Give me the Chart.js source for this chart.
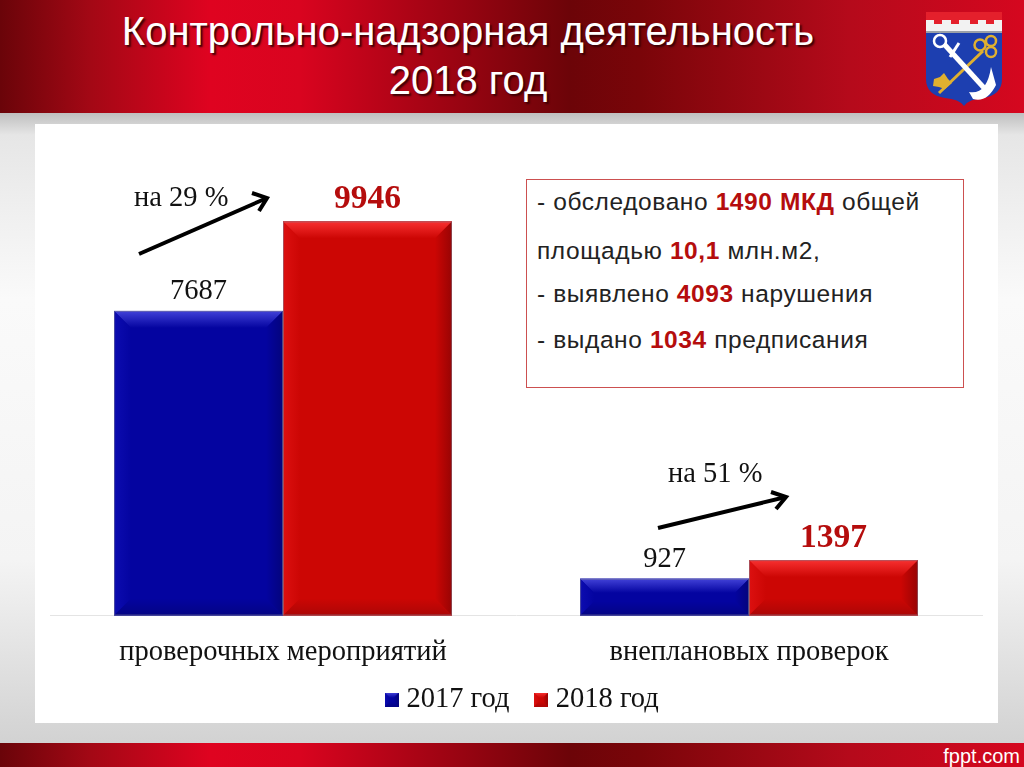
<!DOCTYPE html>
<html lang="ru">
<head>
<meta charset="utf-8">
<title>Контрольно-надзорная деятельность</title>
<script src="https://cdn.jsdelivr.net/npm/chart.js@4"></script>
<style>
  html, body { margin: 0; padding: 0; }
  #slide {
    position: relative; width: 1024px; height: 767px; overflow: hidden;
    background: linear-gradient(to bottom, #bdbdbd 112px, #e6e6e6 135px, #fafafa 300px, #f4f4f4 560px, #d2d2d2 743px);
  }
  .band {
    position: absolute; left: 0; width: 1024px;
    background: linear-gradient(to right, #6a0409 0, #a30815 90px, #df0320 210px, #d9041f 300px, #6c0408 570px, #7a0509 640px, #b50a1b 850px, #d5071f 1024px);
  }
  #top { top: 0; height: 113px; }
  #bottom { top: 743px; height: 24px; }
  #panel { position: absolute; left: 35px; top: 124px; width: 963px; height: 599px; background: #fff; }
  #title {
    position: absolute; left: 0; top: 7px; width: 936px; text-align: center; color: #fff;
    font: 40px/49px "Liberation Sans", sans-serif; text-shadow: 2px 2px 2px #3a0005;
  }
  #site { position: absolute; right: 4px; top: 745px; color: #fff; font: 20px/22px "Liberation Sans", sans-serif; }
  #chart { position: absolute; left: 0; top: 0; }
  #note {
    position: absolute; left: 526px; top: 179px; width: 426px; height: 207px; padding-left: 10px;
    border: 1px solid #cc5050; background: #fff; color: #222;
    font: 24.5px "Liberation Sans", sans-serif; letter-spacing: 0.6px;
  }
  #note div { position: absolute; left: 10px; white-space: nowrap; }
  #note b { color: #b50d0d; }
  .pct { position: absolute; font: 28.5px "Liberation Serif", serif; color: #111; white-space: nowrap; }
  #over { position: absolute; left: 0; top: 0; }
  #arms { position: absolute; left: 925px; top: 11px; }
</style>
</head>
<body>
<div id="slide">
  <div id="top" class="band"></div>
  <div id="bottom" class="band"></div>
  <div id="panel"></div>
  <div id="title">Контрольно-надзорная деятельность<br>2018 год</div>
  <svg id="arms" width="78" height="96" viewBox="0 0 78 96">
    <path d="M1 1H77V68Q77 84 58 87Q44 88 39 95Q34 88 20 87Q1 84 1 68Z" fill="#1d3fb0"/>
    <path d="M1 1H77V20H1Z" fill="#f2f2f2"/>
    <path d="M1 1H77V9H69V13H61V9H53V13H45V9H34V13H26V9H17V13H9V9H1Z" fill="#e4202c"/>
    <path d="M1 20H77V22H1Z" fill="#9aa0a8"/>
    <path d="M58 40L14 82" stroke="#e0b030" stroke-width="3" fill="none"/>
    <circle cx="55" cy="34" r="5.5" fill="none" stroke="#e0b030" stroke-width="2.5"/>
    <circle cx="66" cy="30" r="5" fill="none" stroke="#e0b030" stroke-width="2.5"/>
    <circle cx="66" cy="41" r="5" fill="none" stroke="#e0b030" stroke-width="2.5"/>
    <path d="M9 68L15 66L19 62L23 68L27 72L20 78L14 76L8 75Z" fill="#e0b030"/>
    <path d="M19 33L60 78" stroke="#fff" stroke-width="5" fill="none"/>
    <circle cx="15" cy="30" r="6" fill="none" stroke="#fff" stroke-width="2.5"/>
    <path d="M25 46L34 32" stroke="#fff" stroke-width="3" fill="none"/>
    <path d="M44 81Q62 84 66 56L71 74Q62 92 48 88Z" fill="#fff"/>
  </svg>
  <div id="site">fppt.com</div>
  <canvas id="chart" width="1024" height="767"></canvas>
  <div id="note">
    <div style="top:8px">- обследовано <b>1490 МКД</b> общей</div>
    <div style="top:57px">площадью <b>10,1</b> млн.м2,</div>
    <div style="top:100px">- выявлено <b>4093</b> нарушения</div>
    <div style="top:146px">- выдано <b>1034</b> предписания</div>
  </div>
  <div class="pct" style="left:134px; top:181px">на 29 %</div>
  <div class="pct" style="left:668px; top:457px">на 51 %</div>
  <svg id="over" width="1024" height="767">
    <g stroke="#000" stroke-width="4" fill="none">
      <path d="M139 254L267 198"/><path d="M252 193L267 198L259 211"/>
      <path d="M658 528L786 497"/><path d="M771 492L786 497L776 509"/>
    </g>
  </svg>
</div>
<script>
const categories = ["проверочных мероприятий", "внеплановых проверок"];
const seriesNames = ["2017 год", "2018 год"];
const values2017 = [7687, 927];
const values2018 = [9946, 1397];

// face, top, left, right, bottom
const bluePal = ["#0404a0", "#4242d8", "#0c0cb0", "#04047c", "#040484"];
const redPal = ["#cc0604", "#f83030", "#dc1010", "#980404", "#ac0606"];
const labelStyle = [
  { font: "28.5px 'Liberation Serif'", color: "#111", gap: 11.5 },
  { font: "bold 33.5px 'Liberation Serif'", color: "#b50d0d", gap: 13 }
];

function bevel(ctx, x0, y0, x1, y1, b, pal) {
  ctx.fillStyle = pal[0];
  ctx.fillRect(x0, y0, x1 - x0, y1 - y0);
  const sides = [
    [[x0, y0], [x1, y0], [x1 - b, y0 + b], [x0 + b, y0 + b], pal[1], x0, y0, x0, y0 + b],
    [[x0, y0], [x0 + b, y0 + b], [x0 + b, y1 - b], [x0, y1], pal[2], x0, y0, x0 + b, y0],
    [[x1, y0], [x1, y1], [x1 - b, y1 - b], [x1 - b, y0 + b], pal[3], x1, y0, x1 - b, y0],
    [[x0, y1], [x0 + b, y1 - b], [x1 - b, y1 - b], [x1, y1], pal[4], x0, y1, x0, y1 - b]
  ];
  sides.forEach(function (s) {
    const g = ctx.createLinearGradient(s[5], s[6], s[7], s[8]);
    g.addColorStop(0, s[4]);
    g.addColorStop(1, pal[0]);
    ctx.fillStyle = g;
    ctx.beginPath();
    ctx.moveTo(s[0][0], s[0][1]);
    ctx.lineTo(s[1][0], s[1][1]);
    ctx.lineTo(s[2][0], s[2][1]);
    ctx.lineTo(s[3][0], s[3][1]);
    ctx.closePath();
    ctx.fill();
  });
}

function swatch(pal) {
  const c = document.createElement("canvas");
  c.width = 14;
  c.height = 14;
  bevel(c.getContext("2d"), 0, 0, 14, 14, 5, pal);
  return c;
}

// bevelled bars and the value labels over them
const barDecor = {
  id: "barDecor",
  afterLayout(chart) {
    // wide label padding pushes the legend down and the slide has it off centre
    chart.legend.left += 9;
    chart.legend.right += 9;
    chart.legend.top -= 18;
    chart.legend.bottom -= 18;
  },
  afterDatasetsDraw(chart) {
    const ctx = chart.ctx;
    [bluePal, redPal].forEach(function (pal, d) {
      chart.getDatasetMeta(d).data.forEach(function (bar, i) {
        const x0 = bar.x - bar.width / 2;
        const x1 = bar.x + bar.width / 2;
        const h = bar.base - bar.y;
        bevel(ctx, x0, bar.y, x1, bar.base, Math.min(17, h / 2.6), pal);
        ctx.strokeStyle = "rgba(130,130,150,0.55)";
        ctx.lineWidth = 1;
        ctx.strokeRect(x0 + 0.5, bar.y + 0.5, bar.width - 1, h - 1);
        ctx.save();
        ctx.font = labelStyle[d].font;
        ctx.fillStyle = labelStyle[d].color;
        ctx.textAlign = "center";
        ctx.textBaseline = "alphabetic";
        ctx.fillText(chart.data.datasets[d].data[i], bar.x, bar.y - labelStyle[d].gap);
        ctx.restore();
      });
    });
  }
};

new Chart(document.getElementById("chart"), {
  type: "bar",
  data: {
    labels: categories,
    datasets: [
      { label: seriesNames[0], data: values2017, backgroundColor: bluePal[0] },
      { label: seriesNames[1], data: values2018, backgroundColor: redPal[0] }
    ]
  },
  options: {
    responsive: false,
    animation: false,
    categoryPercentage: 0.725,
    barPercentage: 1,
    layout: { padding: { left: 50, right: 42, top: 140, bottom: 25 } },
    plugins: {
      tooltip: { enabled: false },
      legend: {
        position: "bottom",
        labels: {
          color: "#111",
          font: { family: "Liberation Serif", size: 28.5 },
          usePointStyle: true,
          boxWidth: 1,
          boxHeight: 14,
          padding: 31,
          generateLabels(chart) {
            return [bluePal, redPal].map(function (pal, i) {
              return {
                text: seriesNames[i],
                datasetIndex: i,
                pointStyle: swatch(pal),
                fontColor: "#111",
                lineWidth: 0
              };
            });
          }
        }
      }
    },
    scales: {
      x: {
        grid: { display: false },
        border: { color: "#e4e4e4" },
        afterFit(scale) { scale.height = 57; },
        ticks: { color: "#111", padding: 12, font: { family: "Liberation Serif", size: 28.5 } }
      },
      y: { display: false, min: 0, max: 12000 }
    }
  },
  plugins: [barDecor]
});
</script>
</body>
</html>
